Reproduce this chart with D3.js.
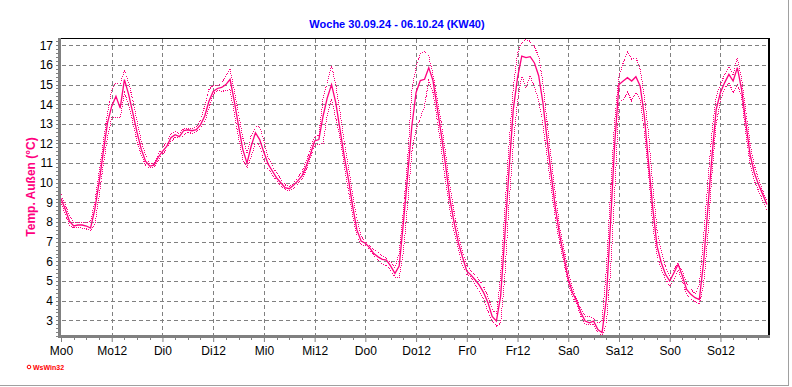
<!DOCTYPE html>
<html>
<head>
<meta charset="utf-8">
<script src="https://cdn.jsdelivr.net/npm/d3@7"></script>
<style>
  body { margin: 0; background: #fff; }
  svg { display: block; font-family: Arial, "Liberation Sans", sans-serif; }
</style>
</head>
<body>
<div id="chart"></div>
<script>
var w = 792;
var h = 387;

// hour labels, one every 12 hours
var dayLabels = ["Mo0", "Mo12", "Di0", "Di12", "Mi0", "Mi12", "Do0", "Do12", "Fr0", "Fr12", "Sa0", "Sa12", "So0", "So12"];
var yTicks = [3, 4, 5, 6, 7, 8, 9, 10, 11, 12, 13, 14, 15, 16, 17];

// hourly values, Mo 0:00 .. So 23:00
var tempAvg = [
  9.2, 8.65, 8.05, 7.8, 7.85, 7.85, 7.8, 7.7, 8.65, 10.0, 11.55, 13.05, 13.9, 14.4, 13.8, 15.25, 14.5, 13.55, 12.55, 11.7, 11.1, 10.85, 10.9, 11.3,
  11.6, 11.85, 12.3, 12.45, 12.35, 12.65, 12.7, 12.65, 12.7, 12.95, 13.4, 14.15, 14.65, 14.8, 14.85, 15.0, 15.27, 14.15, 12.9, 11.7, 11.0, 11.87, 12.55, 12.2,
  11.55, 10.95, 10.6, 10.25, 10.0, 9.75, 9.7, 9.87, 10.1, 10.35, 10.85, 11.45, 12.13, 12.2, 13.4, 14.33, 15.0, 14.08, 12.72, 11.36, 10.17, 8.8, 7.6, 7.03,
  6.92, 6.7, 6.4, 6.23, 6.1, 6.06, 5.76, 5.39, 5.76, 7.97, 10.35, 12.9, 14.6, 15.2, 15.27, 15.86, 15.2, 13.8, 12.4, 10.85, 9.15, 7.97, 6.95, 6.2,
  5.5, 5.3, 5.05, 4.78, 4.4, 3.9, 3.2, 2.96, 4.23, 7.3, 10.7, 13.75, 15.35, 16.45, 16.37, 16.42, 16.1, 15.45, 14.08, 12.2, 10.35, 8.65, 7.3, 6.2,
  5.1, 4.4, 3.98, 3.38, 2.96, 2.87, 2.96, 2.53, 2.37, 4.06, 7.97, 12.04, 15.0, 15.18, 15.35, 15.18, 15.4, 14.93, 13.4, 11.0, 8.7, 6.78, 5.93, 5.34,
  5.0, 5.42, 5.85, 5.25, 4.57, 4.32, 4.15, 4.06, 5.93, 8.65, 11.36, 13.74, 14.6, 15.1, 15.52, 15.18, 15.86, 14.76, 13.06, 11.45, 10.51, 9.92, 9.41, 8.9
];
var tempMax = [
  9.4, 8.9, 8.3, 8.0, 7.97, 7.97, 7.95, 8.05, 9.0, 10.5, 12.05, 13.55, 14.7, 15.1, 15.0, 15.75, 15.1, 14.2, 13.1, 12.1, 11.4, 11.0, 10.95, 11.45,
  11.8, 12.05, 12.5, 12.6, 12.5, 12.75, 12.75, 12.75, 12.85, 13.2, 13.9, 14.75, 14.95, 14.95, 15.1, 15.4, 15.8, 14.7, 13.5, 12.3, 11.5, 12.4, 12.85, 12.85,
  12.1, 11.3, 10.85, 10.5, 10.2, 9.9, 9.8, 9.95, 10.3, 10.55, 11.1, 11.75, 12.35, 12.4, 14.3, 15.1, 15.95, 15.0, 13.6, 12.1, 10.8, 9.4, 8.2, 7.3,
  7.0, 6.8, 6.6, 6.45, 6.3, 6.15, 5.95, 5.7, 6.4, 8.6, 11.2, 14.7, 15.9, 16.55, 16.7, 16.45, 15.5, 14.3, 13.0, 11.5, 9.8, 8.5, 7.4, 6.5,
  5.8, 5.5, 5.3, 5.05, 4.7, 4.2, 3.6, 3.25, 5.25, 8.6, 12.0, 14.9, 16.6, 17.1, 17.3, 17.2, 16.9, 16.45, 15.1, 13.06, 11.2, 9.33, 7.7, 6.6,
  5.5, 4.65, 4.06, 3.55, 3.2, 3.18, 3.1, 2.87, 2.95, 5.58, 9.5, 13.23, 15.45, 16.1, 16.65, 16.3, 16.37, 15.8, 14.4, 12.5, 9.8, 7.6, 6.5, 5.7,
  5.3, 5.6, 5.9, 5.5, 4.9, 4.6, 4.35, 4.8, 7.2, 10.0, 12.6, 14.4, 15.0, 15.5, 15.9, 15.5, 16.35, 15.3, 13.7, 12.0, 10.9, 10.2, 9.6, 9.1
];
var tempMin = [
  9.0, 8.4, 7.85, 7.7, 7.7, 7.7, 7.65, 7.55, 7.85, 9.3, 10.9, 12.3, 13.3, 13.3, 13.3, 14.6, 14.0, 13.1, 12.1, 11.4, 10.9, 10.75, 10.8, 11.1,
  11.45, 11.7, 12.1, 12.3, 12.3, 12.4, 12.6, 12.5, 12.6, 12.75, 13.1, 13.8, 14.5, 14.7, 14.65, 14.7, 14.75, 13.5, 12.3, 11.2, 10.75, 11.3, 12.1, 11.9,
  11.1, 10.7, 10.4, 10.1, 9.85, 9.65, 9.6, 9.7, 9.95, 10.2, 10.65, 11.25, 11.9, 11.95, 12.0, 13.5, 14.25, 13.3, 12.3, 10.9, 9.6, 8.3, 7.3, 6.85,
  6.8, 6.6, 6.3, 6.05, 5.85, 5.8, 5.55, 5.2, 5.2, 6.5, 8.9, 11.6, 12.7, 13.3, 13.9, 15.2, 14.6, 13.2, 11.7, 10.0, 8.65, 7.45, 6.6, 5.75,
  5.33, 5.2, 4.8, 4.5, 4.05, 3.45, 3.0, 2.7, 2.85, 5.25, 9.0, 12.0, 14.1, 15.45, 14.85, 15.45, 14.85, 14.2, 13.0, 11.3, 9.7, 8.1, 6.9, 5.9,
  4.9, 4.2, 3.8, 3.2, 2.8, 2.78, 2.8, 2.4, 2.2, 2.8, 5.5, 9.5, 14.08, 14.25, 14.6, 14.17, 14.6, 14.25, 12.55, 10.5, 7.8, 6.3, 5.6, 5.1,
  4.75, 5.1, 5.55, 5.0, 4.3, 4.1, 3.95, 3.8, 4.8, 7.2, 10.5, 13.0, 14.2, 14.8, 15.1, 14.6, 15.0, 14.4, 12.5, 11.0, 10.1, 9.6, 9.1, 8.6
];

var pink = "#ff0080";
var gridColor = "#808080";

var svg = d3.select("#chart").append("svg")
  .attr("width", w)
  .attr("height", h);

var x = d3.scaleLinear().domain([0, 167.25]).range([61, 768]);
var y = d3.scaleLinear().domain([2.15, 17.37]).range([337, 38]);

// title
svg.append("text")
  .attr("x", 397).attr("y", 28)
  .attr("text-anchor", "middle")
  .attr("font-size", "11px").attr("font-weight", "bold")
  .attr("fill", "#0000ff")
  .text("Woche 30.09.24 - 06.10.24 (KW40)");

// grid
var grid = svg.append("g").attr("stroke", gridColor).attr("stroke-dasharray", "4,3").attr("shape-rendering", "crispEdges");
grid.selectAll("line.h")
  .data(yTicks)
  .enter().append("line")
  .attr("x1", 62).attr("x2", 768)
  .attr("y1", d => Math.round(y(d)) + 0.5).attr("y2", d => Math.round(y(d)) + 0.5);
grid.selectAll("line.v")
  .data(d3.range(12, 168, 12))
  .enter().append("line")
  .attr("y1", 39).attr("y2", 336)
  .attr("x1", d => Math.round(x(d)) + 0.5).attr("x2", d => Math.round(x(d)) + 0.5);

// series
var line = d3.line().x((d, i) => x(i)).y(d => y(d));
svg.append("defs").append("clipPath").attr("id", "plot")
  .append("rect").attr("x", 61).attr("y", 38).attr("width", 707).attr("height", 299);
var series = svg.append("g").attr("clip-path", "url(#plot)").attr("fill", "none").attr("stroke", pink);
series.append("path").datum(tempMax).attr("d", line).attr("stroke-width", 1)
  .attr("stroke-dasharray", "1,1").attr("shape-rendering", "crispEdges");
series.append("path").datum(tempMin).attr("d", line).attr("stroke-width", 1)
  .attr("stroke-dasharray", "1,1").attr("shape-rendering", "crispEdges");
series.append("path").datum(tempAvg).attr("d", line).attr("stroke-width", 1.3);

// frame of plot
svg.append("line").attr("x1", 61).attr("x2", 770).attr("y1", 38.5).attr("y2", 38.5).attr("stroke", "#000");
svg.append("line").attr("x1", 769).attr("x2", 769).attr("y1", 38).attr("y2", 338).attr("stroke", "#000").attr("stroke-width", 2);

// y axis
var yAxis = d3.axisLeft(y).tickValues(yTicks).tickSize(0).tickPadding(6).tickFormat(d3.format("d"));
var gy = svg.append("g").attr("transform", "translate(59,0)").call(yAxis);
gy.select(".domain").remove();
gy.selectAll("text").attr("font-size", "12px").attr("fill", "#000").attr("font-family", "Arial, 'Liberation Sans', sans-serif");
svg.append("g").attr("stroke", gridColor).attr("shape-rendering", "crispEdges")
  .selectAll("line")
  .data(d3.range(2.2, 17.37, 0.2))
  .enter().append("line")
  .attr("x1", 56).attr("x2", 59)
  .attr("y1", d => Math.round(y(d)) + 0.5).attr("y2", d => Math.round(y(d)) + 0.5);
svg.append("line").attr("x1", 59.5).attr("x2", 59.5).attr("y1", 38).attr("y2", 338)
  .attr("stroke", gridColor).attr("stroke-width", 3);

// x axis
var xAxis = d3.axisBottom(x).tickValues(d3.range(0, 168, 12)).tickSize(5).tickPadding(4)
  .tickFormat((d, i) => dayLabels[i]);
var gx = svg.append("g").attr("transform", "translate(0,337)").call(xAxis);
gx.select(".domain").remove();
gx.selectAll("line").attr("stroke", gridColor).attr("stroke-width", 1);
gx.selectAll("text").attr("font-size", "12px").attr("fill", "#000").attr("font-family", "Arial, 'Liberation Sans', sans-serif");
svg.append("g").attr("stroke", gridColor).attr("shape-rendering", "crispEdges")
  .selectAll("line")
  .data(d3.range(3, 168, 3).filter(d => d % 12 != 0))
  .enter().append("line")
  .attr("y1", 337).attr("y2", 340)
  .attr("x1", d => Math.round(x(d)) + 0.5).attr("x2", d => Math.round(x(d)) + 0.5);
svg.append("line").attr("x1", 58).attr("x2", 770).attr("y1", 336.5).attr("y2", 336.5)
  .attr("stroke", gridColor).attr("stroke-width", 3);

// y label
svg.append("text")
  .attr("transform", "translate(35,187) rotate(-90)")
  .attr("text-anchor", "middle")
  .attr("font-size", "12px").attr("font-weight", "bold")
  .attr("fill", pink)
  .text("Temp. Außen (°C)");

// program mark
svg.append("circle").attr("cx", 29).attr("cy", 367).attr("r", 1.8)
  .attr("fill", "none").attr("stroke", "#ff0000").attr("stroke-width", 1);
svg.append("text")
  .attr("x", 33).attr("y", 370)
  .attr("font-size", "7px").attr("font-weight", "bold")
  .attr("fill", "#ff0000")
  .text("WsWin32");

// outer frame
svg.append("line").attr("x1", 0).attr("x2", 789).attr("y1", 385.5).attr("y2", 385.5).attr("stroke", "#a0a0a0");
svg.append("line").attr("x1", 788.5).attr("x2", 788.5).attr("y1", 0).attr("y2", 386).attr("stroke", "#a0a0a0");
</script>
</body>
</html>
